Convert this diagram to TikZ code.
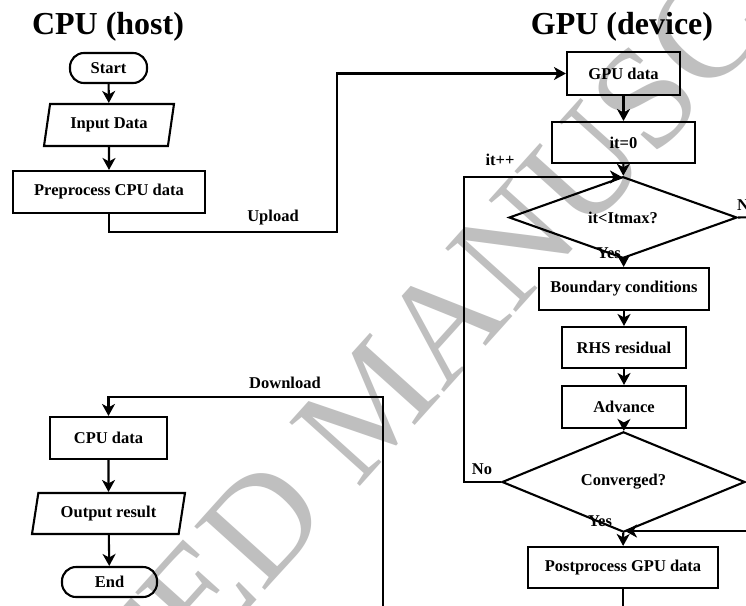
\documentclass[tikz,border=0pt]{standalone}
\usepackage{fontspec}
\setmainfont{Liberation Serif}
\usetikzlibrary{arrows.meta,shapes.geometric}
\tikzset{
  base/.style={draw, line width=2.1pt, font=\fontsize{16.5}{19}\selectfont\bfseries, inner sep=0pt, align=center},
  procbox/.style={base, rectangle},
  termbox/.style={base, rectangle, rounded corners=14pt},
  iobox/.style={base, trapezium, trapezium stretches body, trapezium left angle=67, trapezium right angle=113},
  decbox/.style={base, diamond},
  arr/.style={line width=2.1pt, -{Stealth[length=12pt,width=13pt,inset=3.5pt]}},
  ln/.style={line width=2.1pt},
  lbl/.style={font=\fontsize{16.5}{19}\selectfont\bfseries, inner sep=0pt},
  ttl/.style={font=\fontsize{32}{38}\selectfont\bfseries, inner sep=0pt},
  wmark/.style={font=\fontsize{145}{145}\selectfont, text=black!25, inner sep=0pt}
}
\begin{document}
\begin{tikzpicture}[x=1pt,y=-1pt]
\useasboundingbox (0,0) rectangle (746,605);
\clip (0,0) rectangle (746,605);
\fill[white] (0,0) rectangle (746,605);
% watermark
\node[wmark, rotate=48] (wm) at (372,402) {ACCEPTED MANUSCRIPT};
% titles
\node[ttl] (t1) at (108,27) {CPU (host)};
\node[ttl] (t2) at (622,27) {GPU (device)};
% CPU side
\node[termbox, minimum width=77pt, minimum height=30pt] (start) at (108.5,68) {Start};
\node[iobox, minimum width=130pt, minimum height=42pt] (input) at (109,125) {Input Data};
\node[procbox, minimum width=192pt, minimum height=42pt] (pre) at (109,192) {Preprocess CPU data};
\node[procbox, minimum width=117pt, minimum height=42pt] (cpud) at (108.5,438) {CPU data};
\node[iobox, minimum width=153pt, minimum height=41pt] (out) at (108.5,513.5) {Output result};
\node[termbox, minimum width=95pt, minimum height=30pt] (end) at (109.5,582) {End};
% GPU side
\node[procbox, minimum width=113pt, minimum height=43pt] (gpud) at (623.5,73.5) {GPU data};
\node[procbox, minimum width=143pt, minimum height=41pt] (it0) at (623.5,142.5) {it=0};
\node[decbox, minimum width=228pt, minimum height=59pt] (d1) at (623,217.5) {it<Itmax?};
\node[procbox, minimum width=170pt, minimum height=42pt] (bc) at (624,289) {Boundary conditions};
\node[procbox, minimum width=124pt, minimum height=41pt] (rhs) at (624,347.5) {RHS residual};
\node[procbox, minimum width=124pt, minimum height=42pt] (adv) at (624,407) {Advance};
\node[decbox, minimum width=243pt, minimum height=60pt] (d2) at (623.5,482) {Converged?};
\node[procbox, minimum width=190pt, minimum height=41pt] (post) at (623,567.5) {Postprocess GPU data};
% labels
\node[lbl] (lup) at (273,218) {Upload};
\node[lbl] (ldown) at (285,383) {Download};
\node[lbl] (lit) at (500,160) {it++};
\node[lbl] (lno2) at (482,469) {No};
\node[lbl] (lyes2) at (600,521) {Yes};
\node[lbl, anchor=east] (lyes1) at (621,253) {Yes};
\node[lbl, anchor=west] (lno1) at (737,205) {No};
% coordinates
\coordinate (upc) at (337,232);
\coordinate (lp) at (464,177);
\coordinate (lpin) at (622,177);
\coordinate (r1) at (760,217);
\coordinate (r2) at (760,531);
\coordinate (r2in) at (625,531);
\coordinate (pb) at (623,620);
\coordinate (dl0) at (383,620);
\coordinate (dl1) at (383,397);
% CPU connectors
\draw[arr] (start) -- (input);
\draw[arr] (input) -- (pre);
\draw[arr] (pre.south) |- (upc) |- (gpud.west);
\draw[arr] (dl0) -- (dl1) -| (cpud.north);
\draw[arr] (cpud) -- (out);
\draw[arr] (out) -- (end);
% GPU connectors
\draw[arr] (gpud) -- (it0);
\draw[arr] (it0) -- (d1);
\draw[arr] (d1) -- (bc);
\draw[arr] (bc) -- (rhs);
\draw[arr] (rhs) -- (adv);
\draw[arr] (adv) -- (d2);
\draw[arr] (d2) -- (post);
\draw[arr] (d2.west) -| (lp) -- (lpin);
\draw[ln] (d1.east) -- (r1);
\draw[arr] (r2) -- (r2in);
\draw[ln] (post.south) -- (pb);
\end{tikzpicture}
\end{document}
